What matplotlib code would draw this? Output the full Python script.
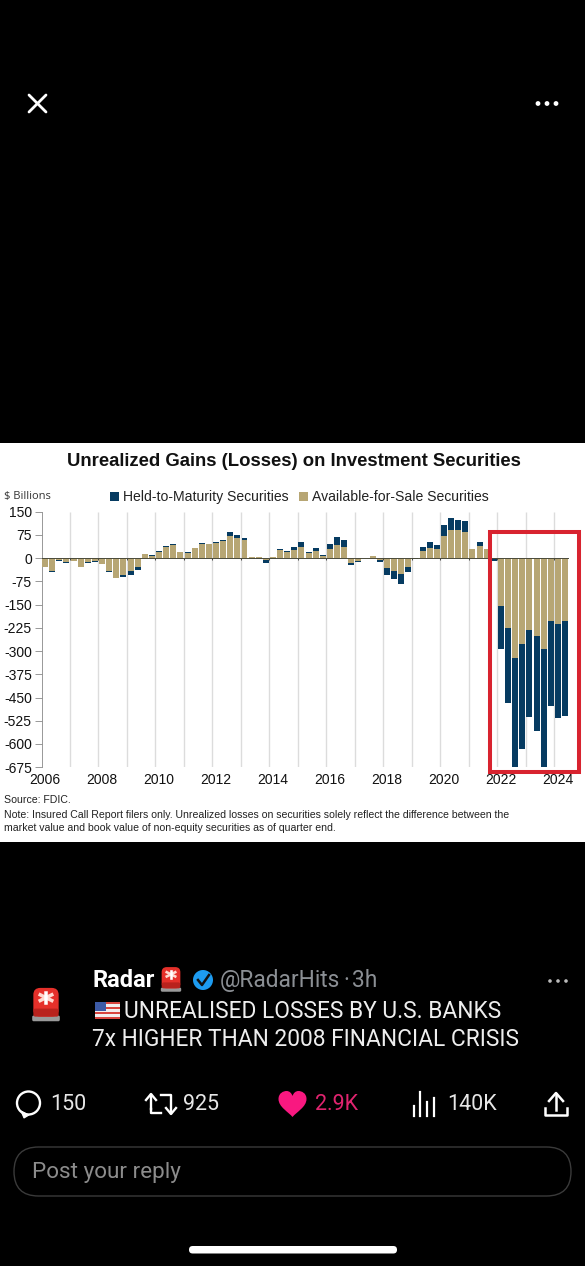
import numpy as np
import matplotlib
matplotlib.use('Agg')
import matplotlib.pyplot as plt
from matplotlib.patches import Rectangle, FancyBboxPatch, Circle, PathPatch, Polygon
from matplotlib.path import Path

# one value per quarter, 2006 Q1 to 2024 Q2, $ billions
afs = [-27, -42, -7, -13, -10, -28, -13, -9, -18, -42, -64, -56, -42, -29, 13, 6,
       19, 37, 41, 21, 18, 32, 47, 45, 48, 55, 72, 66, 60, 5, 3, -5,
       3, 25, 20, 27, 36, 16, 23, 6, 29, 43, 37, -16, -10, 1, 7, -5,
       -33, -40, -51, -29, -1, 22, 32, 28, 70, 92, 90, 85, 31, 40, 30, 1,
       -153, -227, -322, -276, -233, -250, -294, -204, -211, -204]
htm = [-2, -3, -3, -3, 0, -1, -3, -2, -1, -3, -1, -6, -11, -9, 0, 3,
       3, 3, 5, 0, 1, 2, 3, 1, 4, 5, 11, 9, 5, -3, -4, -12,
       -3, 3, 2, 9, 15, 5, 10, 4, 16, 25, 21, -5, -4, 1, 1, -6,
       -21, -26, -33, -16, -2, 14, 21, 16, 36, 39, 34, 36, 0, 13, 0, -10,
       -140, -242, -352, -341, -281, -308, -380, -274, -306, -307]
y_ticks = [150, 75, 0, -75, -150, -225, -300, -375, -450, -525, -600, -675]
year_labels = [2006, 2008, 2010, 2012, 2014, 2016, 2018, 2020, 2022, 2024]
grid_years = list(range(2007, 2025))

NAVY = '#063b61'
TAN = '#b7a674'
RED = '#d8232f'
GREY = '#8b8f94'
PINK = '#f91880'
CHART_FONT = ['Liberation Sans', 'DejaVu Sans']
UI_FONT = ['Roboto', 'DejaVu Sans']

W, H = 585, 1266
fig = plt.figure(figsize=(W / 100, H / 100), dpi=100, facecolor='black')

# pixel-coordinate layer for the screenshot parts
bg = fig.add_axes([0, 0, 1, 1])
bg.set_xlim(0, W)
bg.set_ylim(H, 0)
bg.axis('off')
bg.add_patch(Rectangle((0, 443), W, 399, fc='white', ec='none'))


def chart_text(x, y, s, size, **kw):
    kw.setdefault('color', '#111111')
    bg.text(x, y, s, fontsize=size, family=CHART_FONT, va='baseline', **kw)


def ui_text(x, y, s, size, **kw):
    kw.setdefault('color', 'white')
    bg.text(x, y, s, fontsize=size, family=UI_FONT, va='baseline', **kw)


def siren(cx, cy, s):
    bg.add_patch(FancyBboxPatch((cx - 12 * s, cy + 10 * s), 24 * s, 5 * s, boxstyle='round,pad=0,rounding_size=1.5',
                                fc='#9a9a9a', ec='none'))
    bg.add_patch(FancyBboxPatch((cx - 11 * s, cy - 14 * s), 22 * s, 25 * s,
                                boxstyle='round,pad=0,rounding_size=%g' % (6 * s), fc='#e5302a', ec='none'))
    bg.add_patch(FancyBboxPatch((cx - 11 * s, cy + 4 * s), 22 * s, 7 * s, boxstyle='round,pad=0,rounding_size=2',
                                fc='#b9221d', ec='none'))
    bg.plot([cx - 5 * s, cx + 5 * s], [cy - 3 * s, cy - 8 * s], color='#ffd9d0', lw=2.2 * s)
    bg.plot([cx - 5 * s, cx + 5 * s], [cy - 8 * s, cy - 3 * s], color='#ffd9d0', lw=2.2 * s)
    bg.plot([cx, cx], [cy - 10 * s, cy - 1 * s], color='white', lw=2.2 * s)


def flag(x, y, w, h):
    for i in range(7):
        c = '#d8453f' if i % 2 == 0 else '#f2eeee'
        bg.add_patch(Rectangle((x, y + i * h / 7), w, h / 7 + 0.2, fc=c, ec='none'))
    bg.add_patch(Rectangle((x, y), w * 0.45, h * 0.55, fc='#3c5aa6', ec='none'))


def heart(cx, cy, s, color):
    verts = np.array([(0, 13), (-4, 8), (-14, 3), (-14, -5), (-14, -11), (-9, -13), (-6, -13),
                      (-3, -13), (-1, -11), (0, -8), (1, -11), (3, -13), (6, -13),
                      (9, -13), (14, -11), (14, -5), (14, 3), (4, 8), (0, 13)], float)
    codes = [Path.MOVETO] + [Path.CURVE4] * 18
    bg.add_patch(PathPatch(Path(verts * s + [cx, cy], codes), fc=color, ec='none'))


# top bar icons
bg.plot([29, 46], [95, 112], color='white', lw=2.0, solid_capstyle='round')
bg.plot([46, 29], [95, 112], color='white', lw=2.0, solid_capstyle='round')
for dx in (538, 547, 556):
    bg.add_patch(Circle((dx, 103.5), 2.4, fc='white', ec='none'))

# chart headings
chart_text(293.5, 465.5, 'Unrealized Gains (Losses) on Investment Securities', 13.3, weight='bold', ha='center')
bg.text(4, 499, '$ Billions', fontsize=8.0, family=['Open Sans', 'DejaVu Sans'], color='#333333', va='baseline')
bg.add_patch(Rectangle((110, 491.5), 9, 9, fc=NAVY, ec='none'))
chart_text(123, 501, 'Held-to-Maturity Securities', 10.05, color='#222222')
bg.add_patch(Rectangle((299, 491.5), 9, 9, fc=TAN, ec='none'))
chart_text(312.5, 501, 'Available-for-Sale Securities', 10.05, color='#222222')

# the bars
ax_l, ax_r, ax_t, ax_b = 41.5, 568.6, 511.7, 767.2
ax = fig.add_axes([ax_l / W, 1 - ax_b / H, (ax_r - ax_l) / W, (ax_b - ax_t) / H])
ax.patch.set_alpha(0)
afs_v = np.array(afs, float)
htm_v = np.array(htm, float)
x = 2006 + 0.25 * np.arange(len(afs_v)) + 0.125
ax.vlines(grid_years, -675, 150, color='#dcdcdc', lw=1.0, zorder=1)
ax.vlines(grid_years, -6, 0, color='#444444', lw=0.7, zorder=2)
ax.bar(x, afs_v, width=0.21, color=TAN, zorder=3)
ax.bar(x, htm_v, width=0.21, bottom=np.where(afs_v * htm_v > 0, afs_v, 0), color=NAVY, zorder=3)
ax.axhline(0, color='#4a4a3a', lw=0.7, zorder=4)
ax.set_xlim(2006, 2024.5)
ax.set_ylim(-675, 150)
ax.set_yticks(y_ticks)
ax.set_yticklabels([str(v) for v in y_ticks], fontsize=10, family=CHART_FONT, color='#111111')
ax.tick_params(axis='y', length=5, width=0.6, color='#888888', pad=2)
ax.set_xticks([v + 0.11 for v in year_labels])
ax.set_xticklabels([str(v) for v in year_labels], fontsize=10, family=CHART_FONT, color='#111111')
ax.tick_params(axis='x', length=0, pad=4)
for side in ('top', 'right', 'bottom'):
    ax.spines[side].set_visible(False)
ax.spines['left'].set_color('#888888')
ax.spines['left'].set_linewidth(0.6)

# red highlight box
fig.add_artist(Rectangle((490 / W, 1 - 772 / H), 89 / W, 240 / H, transform=fig.transFigure,
                         fc='none', ec=RED, lw=2.9, zorder=10))

# chart notes
chart_text(4, 803, 'Source: FDIC.', 7.55, color='#222222')
chart_text(4, 817.5, 'Note: Insured Call Report filers only. Unrealized losses on securities solely reflect '
                     'the difference between the', 7.55, color='#222222')
chart_text(4, 831, 'market value and book value of non-equity securities as of quarter end.', 7.55, color='#222222')

# tweet header
siren(46, 1004, 1.15)
ui_text(92, 987, 'Radar', 17, weight='bold')
siren(171, 979, 0.85)
bg.add_patch(Circle((203, 980), 10, fc='#1d9bf0', ec='none'))
bg.plot([198, 202, 209], [980, 985, 975], color='#111111', lw=1.8)
ui_text(220, 987, '@RadarHits', 16.4, color=GREY)
ui_text(343, 987, '·', 16.4, color=GREY)
ui_text(352, 987, '3h', 16.4, color=GREY)
for dx in (550, 558, 566):
    bg.add_patch(Circle((dx, 981), 1.8, fc='#bbbbbb', ec='none'))

# tweet body
flag(95, 1002, 25, 17)
ui_text(124, 1017.5, 'UNREALISED LOSSES BY U.S. BANKS', 16.4, color='#eeeeee')
ui_text(92, 1046.5, '7x HIGHER THAN 2008 FINANCIAL CRISIS', 16.4, color='#eeeeee')

# action row
bg.add_patch(Circle((28.5, 1103), 11.5, fc='none', ec='white', lw=1.7))
bg.add_patch(Polygon([(21, 1111), (29, 1115), (24, 1118)], fc='white', ec='white', lw=0.8))
ui_text(50, 1110.5, '150', 15.5, color='#e7e7e7')
bg.plot([151, 151], [1095, 1109], color='white', lw=1.7)
bg.plot([151, 151, 161], [1109, 1113, 1113], color='white', lw=1.7)
bg.plot([161, 171, 171], [1095, 1095, 1113], color='white', lw=1.7)
bg.plot([146, 151, 156], [1100, 1094, 1100], color='white', lw=1.7)
bg.plot([166, 171, 176], [1108, 1114, 1108], color='white', lw=1.7)
ui_text(183, 1110.5, '925', 15.5, color='#e7e7e7')
heart(292.5, 1104, 1.0, PINK)
ui_text(315, 1110.5, '2.9K', 15.5, color='#e0246f')
for dx, top in zip((414, 420, 427, 434), (1106, 1092, 1102, 1098)):
    bg.plot([dx, dx], [top, 1116], color='white', lw=1.6)
ui_text(447, 1110.5, '140K', 15.5, color='#e7e7e7')
bg.plot([556, 556], [1094, 1110], color='white', lw=1.8)
bg.plot([549, 556, 563], [1101, 1093, 1101], color='white', lw=1.8)
bg.plot([545, 545, 567, 567], [1108, 1115, 1115, 1108], color='white', lw=1.8)

# reply box and home bar
bg.add_patch(FancyBboxPatch((14, 1147), 557, 49, boxstyle='round,pad=0,rounding_size=24.5',
                            fc='black', ec='#3a3a3a', lw=1.0))
ui_text(32, 1178, 'Post your reply', 16.2, color='#8c8c8c')
bg.add_patch(FancyBboxPatch((189, 1246), 208, 7.5, boxstyle='round,pad=0,rounding_size=3.7', fc='white', ec='none'))

fig.savefig('out.png', dpi=100, facecolor='black')
